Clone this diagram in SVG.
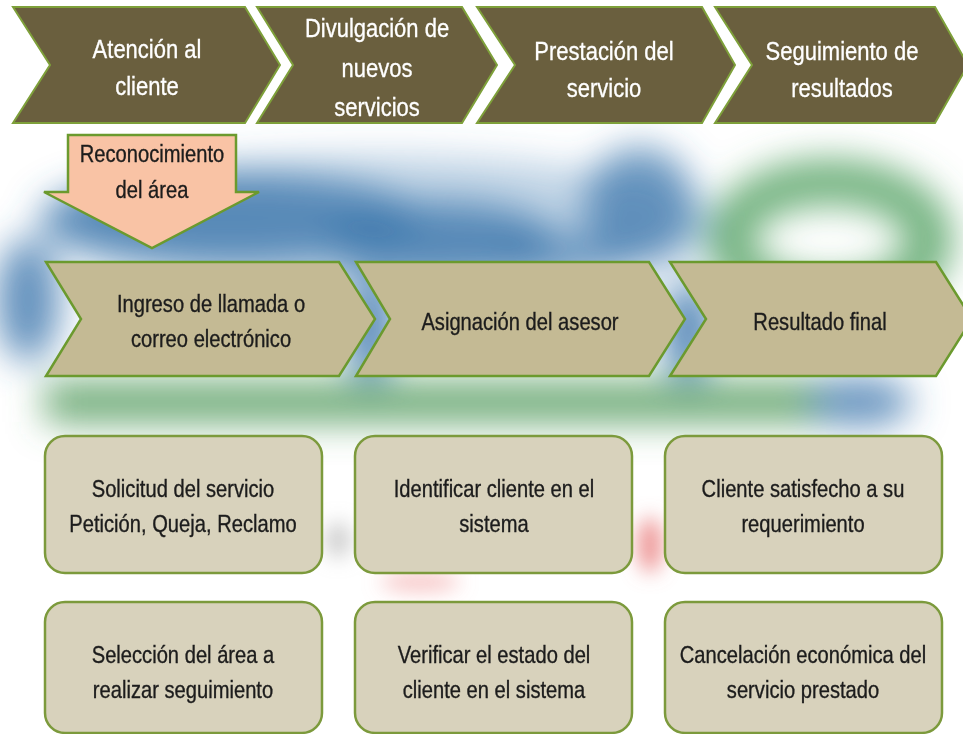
<svg xmlns="http://www.w3.org/2000/svg" width="963" height="734" viewBox="0 0 963 734">
  <defs>
    <style>
      .top { fill: #6a5f3e; stroke: #7ea03a; stroke-width: 2; stroke-linejoin: miter; }
      .mid { fill: #c4ba94; stroke: #6b9a2e; stroke-width: 2.5; stroke-linejoin: miter; }
      .box { fill: #d8d2bc; stroke: #7c9a3c; stroke-width: 2.5; }
      .orange { fill: #f9c3a5; stroke: #6b9a2e; stroke-width: 2.5; }
      text { font-family: "Liberation Sans", Arial, sans-serif; text-anchor: middle; }
      .wt { fill: #ffffff; stroke: #ffffff; stroke-width: 0.3; font-size: 25px; }
      .dk { fill: #1c1c1c; stroke: #1c1c1c; stroke-width: 0.35; font-size: 24px; }
    </style>
    <filter id="blur" x="-50%" y="-50%" width="200%" height="200%">
      <feGaussianBlur stdDeviation="18"/>
    </filter>
    <filter id="blur2" x="-50%" y="-50%" width="200%" height="200%">
      <feGaussianBlur stdDeviation="10"/>
    </filter>
  </defs>
  <rect x="0" y="0" width="963" height="734" fill="#ffffff"/>

  <g id="background" filter="url(#blur)">
    <ellipse cx="380" cy="225" rx="340" ry="70" fill="#4a80b4" opacity="0.35"/>
    <ellipse cx="230" cy="218" rx="190" ry="45" fill="#3f78ae" opacity="0.8"/>
    <ellipse cx="440" cy="240" rx="115" ry="38" fill="#3f78ae" opacity="0.8"/>
    <ellipse cx="640" cy="205" rx="55" ry="58" fill="#3f78ae" opacity="0.75"/>
    <ellipse cx="560" cy="255" rx="70" ry="25" fill="#3f78ae" opacity="0.6"/>
    <ellipse cx="28" cy="300" rx="32" ry="62" fill="#3f78ae" opacity="0.8"/>
    <ellipse cx="370" cy="330" rx="24" ry="50" fill="#3f78ae" opacity="0.9"/>
    <ellipse cx="688" cy="330" rx="24" ry="50" fill="#3f78ae" opacity="0.9"/>
    <ellipse cx="830" cy="240" rx="100" ry="58" fill="none" stroke="#55a265" stroke-width="45" opacity="0.85"/>
    <rect x="45" y="382" width="780" height="40" fill="#529a5c" opacity="0.85"/>
    <ellipse cx="860" cy="402" rx="52" ry="24" fill="#3f78ae" opacity="0.8"/>
  </g>
  <g id="background-accents" filter="url(#blur2)">
    <ellipse cx="650" cy="545" rx="12" ry="28" fill="#e87878" opacity="0.8"/>
    <ellipse cx="420" cy="582" rx="40" ry="8" fill="#f09090" opacity="0.6"/>
    <ellipse cx="338" cy="540" rx="12" ry="18" fill="#a8a8a8" opacity="0.6"/>
  </g>

  <g id="connectors"></g>

  <g id="phase1">
    <polygon class="top" points="13,7 245,7 280,65 245,123 13,123 50,65"/>
    <text class="wt" transform="translate(147 58) scale(0.88 1)">Atención al</text>
    <text class="wt" transform="translate(147 95) scale(0.88 1)">cliente</text>
  </g>
  <g id="phase2">
    <polygon class="top" points="257,7 462,7 497,65 462,123 257,123 293,65"/>
    <text class="wt" transform="translate(377 37) scale(0.88 1)">Divulgación de</text>
    <text class="wt" transform="translate(377 77) scale(0.88 1)">nuevos</text>
    <text class="wt" transform="translate(377 116) scale(0.88 1)">servicios</text>
  </g>
  <g id="phase3">
    <polygon class="top" points="477,7 702,7 735,65 702,123 477,123 515,65"/>
    <text class="wt" transform="translate(604 60) scale(0.88 1)">Prestación del</text>
    <text class="wt" transform="translate(604 97) scale(0.88 1)">servicio</text>
  </g>
  <g id="phase4">
    <polygon class="top" points="715,7 935,7 968,65 935,123 715,123 752,65"/>
    <text class="wt" transform="translate(842 60) scale(0.88 1)">Seguimiento de</text>
    <text class="wt" transform="translate(842 97) scale(0.88 1)">resultados</text>
  </g>

  <g id="reconocimiento">
    <polygon class="orange" points="68,135 236,135 236,192 259,192 152,248 44,192 68,192"/>
    <text class="dk" transform="translate(152 162) scale(0.84 1)">Reconocimiento</text>
    <text class="dk" transform="translate(152 198) scale(0.84 1)">del área</text>
  </g>

  <g id="step1">
    <polygon class="mid" points="46,262 339,262 375,319 339,376 46,376 81,319"/>
    <text class="dk" transform="translate(211 312) scale(0.84 1)">Ingreso de llamada o</text>
    <text class="dk" transform="translate(211 347) scale(0.84 1)">correo electrónico</text>
  </g>
  <g id="step2">
    <polygon class="mid" points="356,262 649,262 685,319 649,376 356,376 390,319"/>
    <text class="dk" transform="translate(520 330) scale(0.84 1)">Asignación del asesor</text>
  </g>
  <g id="step3">
    <polygon class="mid" points="670,262 936,262 972,319 936,376 670,376 706,319"/>
    <text class="dk" transform="translate(820 330) scale(0.84 1)">Resultado final</text>
  </g>

  <g id="box-solicitud">
    <rect class="box" x="45" y="436" width="277" height="137" rx="20"/>
    <text class="dk" transform="translate(183 497) scale(0.84 1)">Solicitud del servicio</text>
    <text class="dk" transform="translate(183 532) scale(0.84 1)">Petición, Queja, Reclamo</text>
  </g>
  <g id="box-identificar">
    <rect class="box" x="355" y="436" width="277" height="137" rx="20"/>
    <text class="dk" transform="translate(494 497) scale(0.84 1)">Identificar cliente en el</text>
    <text class="dk" transform="translate(494 532) scale(0.84 1)">sistema</text>
  </g>
  <g id="box-satisfecho">
    <rect class="box" x="665" y="436" width="277" height="137" rx="20"/>
    <text class="dk" transform="translate(803 497) scale(0.84 1)">Cliente satisfecho a su</text>
    <text class="dk" transform="translate(803 532) scale(0.84 1)">requerimiento</text>
  </g>
  <g id="box-seleccion">
    <rect class="box" x="45" y="602" width="277" height="131" rx="20"/>
    <text class="dk" transform="translate(183 663) scale(0.84 1)">Selección del área a</text>
    <text class="dk" transform="translate(183 698) scale(0.84 1)">realizar seguimiento</text>
  </g>
  <g id="box-verificar">
    <rect class="box" x="355" y="602" width="277" height="131" rx="20"/>
    <text class="dk" transform="translate(494 663) scale(0.84 1)">Verificar el estado del</text>
    <text class="dk" transform="translate(494 698) scale(0.84 1)">cliente en el sistema</text>
  </g>
  <g id="box-cancelacion">
    <rect class="box" x="665" y="602" width="277" height="131" rx="20"/>
    <text class="dk" transform="translate(803 663) scale(0.84 1)">Cancelación económica del</text>
    <text class="dk" transform="translate(803 698) scale(0.84 1)">servicio prestado</text>
  </g>
</svg>
